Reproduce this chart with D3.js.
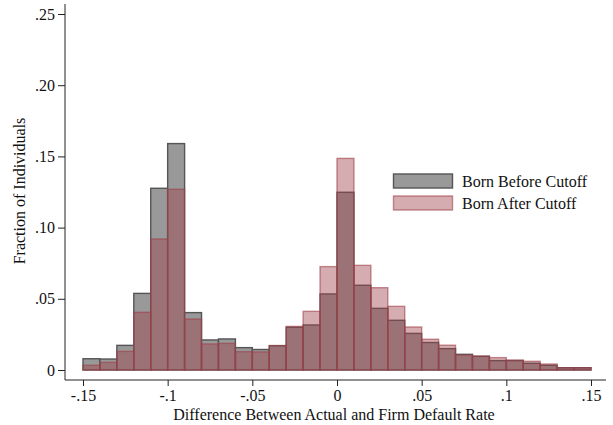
<!DOCTYPE html>
<html><head><meta charset="utf-8">
<script src="https://cdn.jsdelivr.net/npm/d3@7/dist/d3.min.js"></script>
<style>body{margin:0;background:#fff}svg{display:block}text{font-family:"Liberation Serif","Times New Roman",serif;fill:#111}</style>
</head><body>
<script>
const binStarts = [-0.15,-0.14,-0.13,-0.12,-0.11,-0.10,-0.09,-0.08,-0.07,-0.06,-0.05,-0.04,-0.03,-0.02,-0.01,0.00,0.01,0.02,0.03,0.04,0.05,0.06,0.07,0.08,0.09,0.10,0.11,0.12,0.13,0.14];
const binWidth = 0.01;
const bornBefore = [0.0079,0.0077,0.0173,0.0538,0.1276,0.1590,0.0403,0.0211,0.0218,0.0157,0.0144,0.0170,0.0300,0.0316,0.0534,0.1248,0.0595,0.0433,0.0349,0.0257,0.0193,0.0150,0.0110,0.0096,0.0066,0.0066,0.0047,0.0033,0.0016,0.0016];
const bornAfter  = [0.0033,0.0054,0.0131,0.0405,0.0920,0.1269,0.0358,0.0183,0.0187,0.0129,0.0127,0.0172,0.0306,0.0412,0.0726,0.1486,0.0735,0.0578,0.0447,0.0302,0.0216,0.0174,0.0105,0.0098,0.0087,0.0070,0.0061,0.0042,0.0016,0.0016];
const xTicks = [-0.15,-0.1,-0.05,0,0.05,0.1,0.15];
const xTickLabels = ["-.15","-.1","-.05","0",".05",".1",".15"];
const yTicks = [0,0.05,0.10,0.15,0.20,0.25];
const yTickLabels = ["0",".05",".10",".15",".20",".25"];
const seriesNames = ["Born Before Cutoff","Born After Cutoff"];

const W=613,H=425, FS=16;
const svg=d3.select("body").append("svg").attr("width",W).attr("height",H);
const x=d3.scaleLinear().domain([-0.15,0.15]).range([83,591]);
const y=d3.scaleLinear().domain([0,0.25]).range([370,14]);

const grayFill="#999999", grayStroke="#555555";
const redColor="rgb(158,65,74)";

// gray bars
svg.append("g").selectAll("rect").data(bornBefore).join("rect")
  .attr("x",(d,i)=>x(binStarts[i])).attr("width",(d,i)=>x(binStarts[i]+binWidth)-x(binStarts[i]))
  .attr("y",d=>y(d)).attr("height",d=>y(0)-y(d))
  .attr("fill",grayFill).attr("stroke",grayStroke).attr("stroke-width",1.4);
// red bars
svg.append("g").selectAll("rect").data(bornAfter).join("rect")
  .attr("x",(d,i)=>x(binStarts[i])).attr("width",(d,i)=>x(binStarts[i]+binWidth)-x(binStarts[i]))
  .attr("y",d=>y(d)).attr("height",d=>y(0)-y(d))
  .attr("fill",redColor).attr("fill-opacity",0.43)
  .attr("stroke",redColor).attr("stroke-opacity",0.6).attr("stroke-width",1.4);

// axes
const yAxis=d3.axisLeft(y).tickValues(yTicks).tickFormat((d,i)=>yTickLabels[i]).tickSize(7).tickPadding(3);
const gy=svg.append("g").attr("transform","translate(65,0)").call(yAxis);
gy.select(".domain").remove();
gy.append("line").attr("x1",0).attr("x2",0).attr("y1",4).attr("y2",380).attr("stroke","#222").attr("stroke-width",1);
gy.selectAll(".tick line").attr("stroke","#222");
gy.selectAll(".tick text").attr("font-size",FS).attr("fill","#111").style("font-family","Liberation Serif");

const xAxis=d3.axisBottom(x).tickValues(xTicks).tickFormat((d,i)=>xTickLabels[i]).tickSize(6);
const gx=svg.append("g").attr("transform","translate(0,380)").call(xAxis);
gx.select(".domain").remove();
gx.append("line").attr("x1",65).attr("x2",606).attr("y1",0).attr("y2",0).attr("stroke","#222").attr("stroke-width",1);
gx.selectAll(".tick line").attr("stroke","#222");
gx.selectAll(".tick text").attr("font-size",FS).attr("fill","#111").style("font-family","Liberation Serif")
  .attr("y",21).attr("dy",null);

svg.append("text").attr("x",334).attr("y",419.5).attr("text-anchor","middle").attr("font-size",FS).text("Difference Between Actual and Firm Default Rate");
svg.append("text").attr("transform","translate(25,191) rotate(-90)").attr("text-anchor","middle").attr("font-size",FS).text("Fraction of Individuals");

// legend
const leg=svg.append("g");
leg.append("rect").attr("x",393.5).attr("y",174).attr("width",59).attr("height",14)
  .attr("fill",grayFill).attr("stroke",grayStroke).attr("stroke-width",1.4);
leg.append("rect").attr("x",393.5).attr("y",196).attr("width",59).attr("height",14)
  .attr("fill",redColor).attr("fill-opacity",0.43).attr("stroke",redColor).attr("stroke-opacity",0.6).attr("stroke-width",1.4);
leg.append("text").attr("x",462).attr("y",187).attr("font-size",FS).text(seriesNames[0]);
leg.append("text").attr("x",462).attr("y",209).attr("font-size",FS).text(seriesNames[1]);
</script>
</body></html>
